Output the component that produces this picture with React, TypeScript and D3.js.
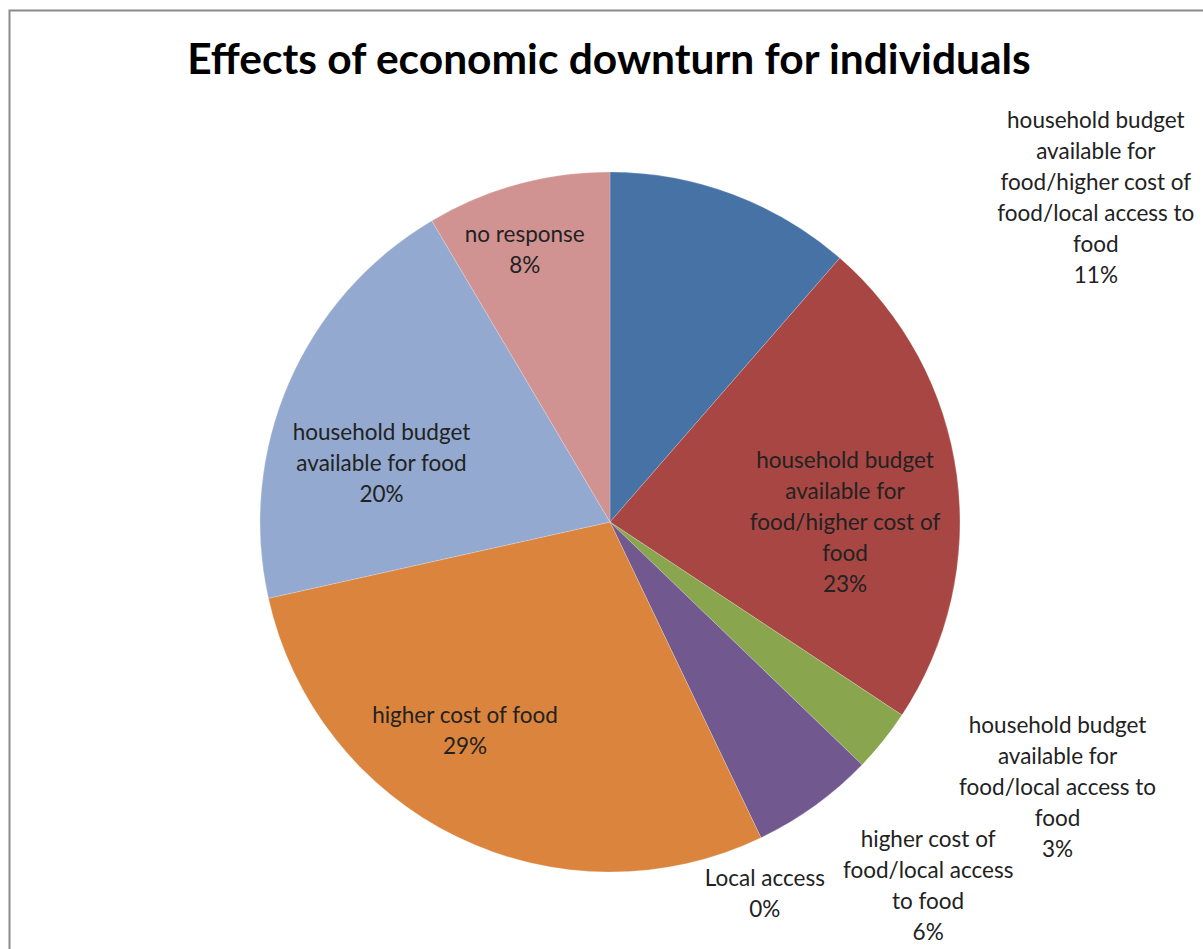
import React from "react";
import * as d3 from "d3";

const categories = [
  "household budget available for food/higher cost of food/local access to food",
  "household budget available for food/higher cost of food",
  "household budget available for food/local access to food",
  "higher cost of food/local access to food",
  "Local access",
  "higher cost of food",
  "household budget available for food",
  "no response",
];
const values = [11.4, 22.9, 2.9, 5.7, 0, 28.6, 20.0, 8.5];
const percentLabels = ["11%", "23%", "3%", "6%", "0%", "29%", "20%", "8%"];
const labelLines = [
  ["household budget", "available for", "food/higher cost of", "food/local access to", "food"],
  ["household budget", "available for", "food/higher cost of", "food"],
  ["household budget", "available for", "food/local access to", "food"],
  ["higher cost of", "food/local access", "to food"],
  ["Local access"],
  ["higher cost of food"],
  ["household budget", "available for food"],
  ["no response"],
];
const colors = ["#4672A6", "#A84643", "#89A54E", "#71588F", "#4198AF", "#DB843D", "#93A9CF", "#D19392"];

// label placement (polar around pie center): bearing in degrees, distance in px
const labelPolar: [number, number][] = [
  [56.3, 584],
  [90, 235],
  [120.6, 520],
  [138.8, 483],
  [157.4, 403],
  [214.8, 254],
  [284.5, 236],
  [342.6, 285],
];

const W = 1203;
const H = 949;
const cx = 610;
const cy = 522;
const R = 350;
const FONT = "Lato, 'Open Sans', sans-serif";
const LINE = 31;

export default function App() {
  const pie = d3.pie<number>().sort(null).value((d) => d);
  const arcs = pie(values);
  const arc = d3.arc<d3.PieArcDatum<number>>().innerRadius(0).outerRadius(R);

  return (
    <svg
      width={W}
      height={H}
      style={{ position: "absolute", left: 0, top: 0, background: "#fff" }}
    >
      <rect x={9.5} y={10.5} width={1400} height={1200} fill="#fff" stroke="#8a8a8a" strokeWidth={2} />
      <text
        x={609}
        y={74}
        textAnchor="middle"
        fontFamily={FONT}
        fontWeight="bold"
        fontSize={42.5}
        fill="#000"
      >
        Effects of economic downturn for individuals
      </text>
      <g transform={`translate(${cx},${cy})`}>
        {arcs.map((a, i) =>
          a.endAngle - a.startAngle > 0 ? (
            <path key={i} d={arc(a) || ""} fill={colors[i]} stroke="#ffffff" strokeOpacity={0.35} strokeWidth={0.6} />
          ) : null
        )}
      </g>
      {labelLines.map((lines, i) => {
        const [deg, dist] = labelPolar[i];
        const rad = (deg * Math.PI) / 180;
        const x = cx + dist * Math.sin(rad);
        const y = cy - dist * Math.cos(rad);
        const all = [...lines, percentLabels[i]];
        const n = all.length;
        return (
          <text
            key={i}
            textAnchor="middle"
            fontFamily={FONT}
            fontSize={22.5}
            fill="#222"
          >
            {all.map((l, j) => (
              <tspan key={j} x={x} y={y + (j - (n - 1) / 2) * LINE} dy="0.35em">
                {l}
              </tspan>
            ))}
          </text>
        );
      })}
    </svg>
  );
}
